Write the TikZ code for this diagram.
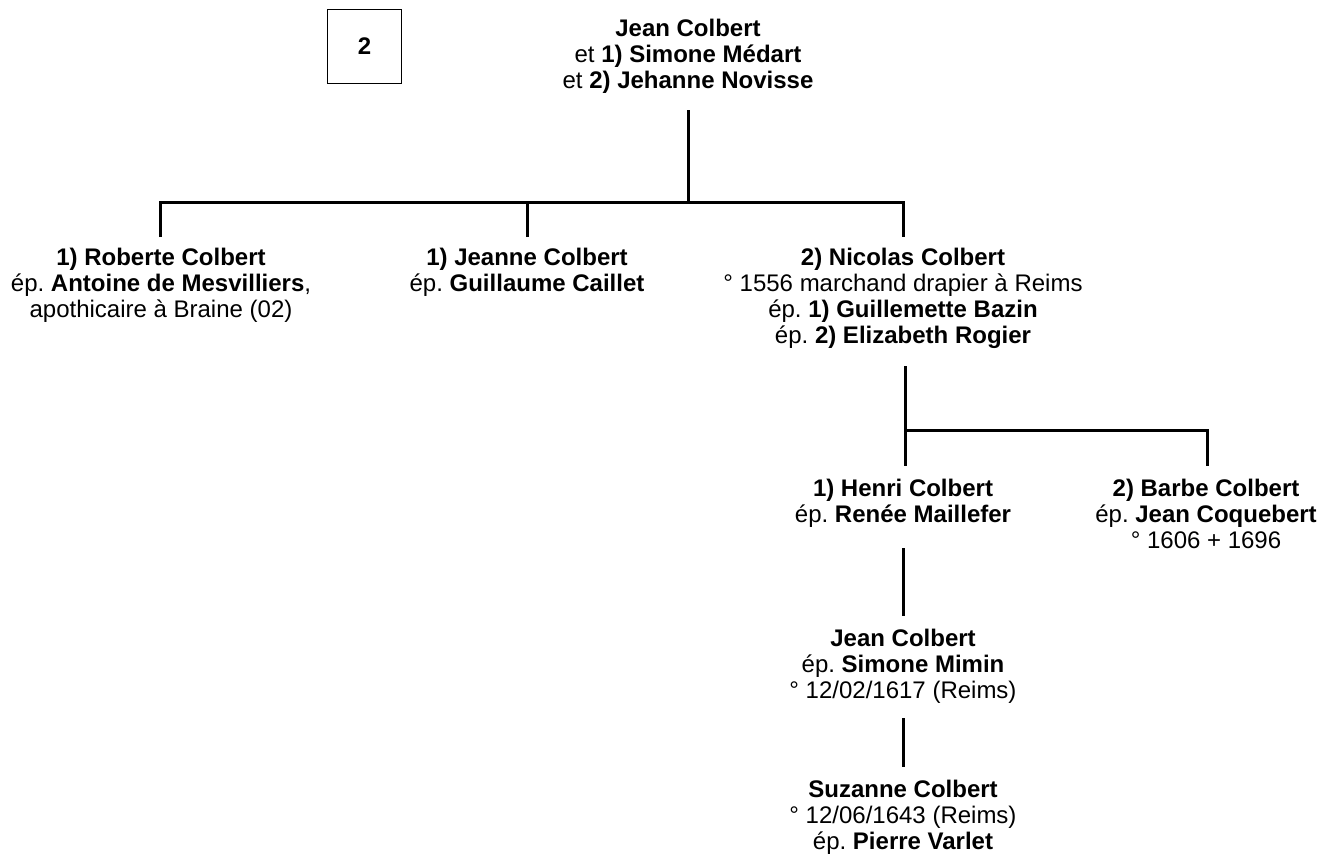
\documentclass[tikz,border=0pt]{standalone}
\usepackage{fontspec}
\setmainfont{Liberation Sans}
\frenchspacing

\tikzset{
  person/.style={align=center, inner sep=0pt, anchor=base,
    font=\fontsize{18pt}{19.5pt}\selectfont},
  link/.style={line width=2.25pt},
}

\begin{document}
\begin{tikzpicture}[x=0.75pt,y=-0.75pt]
\useasboundingbox (0,0) rectangle (1319,861);
% page number
\node[draw, line width=0.6pt, minimum width=56pt, minimum height=55.5pt,
  font=\fontsize{18pt}{19.5pt}\selectfont\bfseries] (page) at (364.5,46.5) {2};

% parents (node base = last line)
\node[person] (jean) at (688,88) {\textbf{Jean Colbert}\\
  et \textbf{1) Simone Médart}\\
  et \textbf{2) Jehanne Novisse}};

% children
\node[person] (roberte) at (161,317) {\textbf{1) Roberte Colbert}\\
  ép. \textbf{Antoine de Mesvilliers},\\
  apothicaire à Braine (02)};
\node[person] (jeanne) at (527,291) {\textbf{1) Jeanne Colbert}\\
  ép. \textbf{Guillaume Caillet}};
\node[person] (nicolas) at (903,343) {\textbf{2) Nicolas Colbert}\\
  ° 1556 marchand drapier à Reims\\
  ép. \textbf{1) Guillemette Bazin}\\
  ép. \textbf{2) Elizabeth Rogier}};

% grandchildren
\node[person] (henri) at (903,522) {\textbf{1) Henri Colbert}\\
  ép. \textbf{Renée Maillefer}};
\node[person] (barbe) at (1206,548) {\textbf{2) Barbe Colbert}\\
  ép. \textbf{Jean Coquebert}\\
  ° 1606 + 1696};

% next generations
\node[person] (jean2) at (903,698) {\textbf{Jean Colbert}\\
  ép. \textbf{Simone Mimin}\\
  ° 12/02/1617 (Reims)};
\node[person] (suzanne) at (903,849) {\textbf{Suzanne Colbert}\\
  ° 12/06/1643 (Reims)\\
  ép. \textbf{Pierre Varlet}};

% line ends
\coordinate (jean-s) at (688,110);
\coordinate (fork1) at (688,202);
\coordinate (roberte-n) at (160,237);
\coordinate (jeanne-n) at (527,237);
\coordinate (nicolas-n) at (903,237);
\coordinate (nicolas-s) at (905,366);
\coordinate (fork2) at (905,430);
\coordinate (henri-n) at (905,466);
\coordinate (barbe-n) at (1207,466);
\coordinate (henri-s) at (903,548);
\coordinate (jean2-n) at (903,616);
\coordinate (jean2-s) at (903,718);
\coordinate (suzanne-n) at (903,767);

% connectors
\draw[link] (jean-s) -- (fork1);
\draw[link] (roberte-n) |- (fork1) -| (nicolas-n);
\draw[link] (jeanne-n) -- (jeanne-n |- fork1);
\draw[link] (nicolas-s) -- (henri-n);
\draw[link] (fork2) -| (barbe-n);
\draw[link] (henri-s) -- (jean2-n);
\draw[link] (jean2-s) -- (suzanne-n);
\end{tikzpicture}
\end{document}
